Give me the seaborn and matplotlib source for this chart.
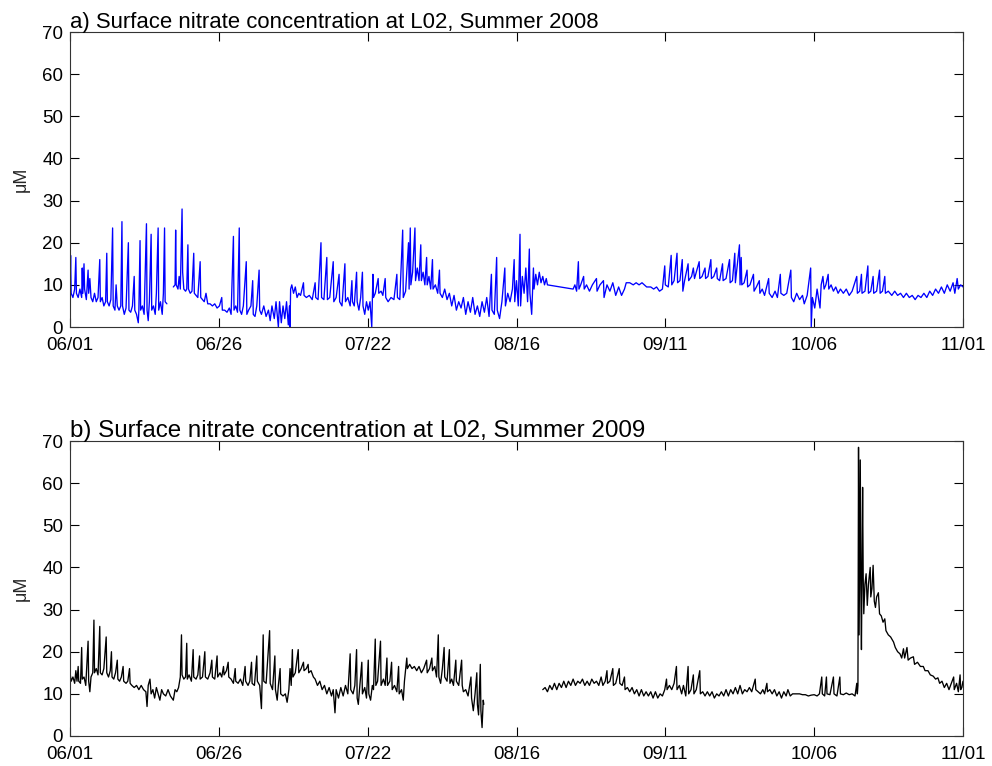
import numpy as np
import pandas as pd
import matplotlib
matplotlib.use("Agg")
import matplotlib.pyplot as plt
import seaborn as sns

# ---------------- data (day since 06/01, uM) ----------------
xtick_days = [0, 25.5, 51, 76.5, 102, 127.5, 153]
xtick_labels = ["06/01", "06/26", "07/22", "08/16", "09/11", "10/06", "11/01"]
ytick_values = [0, 10, 20, 30, 40, 50, 60, 70]

title_2008 = "a) Surface nitrate concentration at L02, Summer 2008"
title_2009 = "b) Surface nitrate concentration at L02, Summer 2009"

nitrate_2008_seg1 = [
    (0.0, 8), (0.1, 17), (0.2, 8), (0.5, 7), (0.8, 9), (1.0, 16.5), (1.1, 8), (1.4, 7), (1.7, 9),
    (2.0, 7), (2.1, 14), (2.2, 8), (2.4, 15), (2.5, 9), (2.8, 6.5), (3.1, 13.5), (3.2, 8), (3.4, 11.5),
    (3.6, 7), (3.9, 6), (4.2, 8), (4.5, 6), (4.8, 7), (5.1, 16), (5.2, 6), (5.5, 7), (5.8, 5), (6.1, 6),
    (6.3, 17.5), (6.4, 6), (6.7, 5), (7.0, 6.5), (7.3, 23.5), (7.4, 5), (7.7, 4), (7.9, 10), (8.1, 5),
    (8.4, 4), (8.7, 5), (8.9, 25), (9.0, 5), (9.3, 3), (9.6, 4.5), (10.0, 20), (10.1, 4), (10.4, 3.5),
    (10.7, 5), (11.0, 12), (11.1, 4), (11.4, 3), (11.7, 1), (11.8, 4), (12.0, 20.5), (12.1, 4),
    (12.4, 5), (12.7, 3), (13.1, 24.5), (13.2, 4), (13.4, 1.5), (13.6, 6), (13.9, 22), (14.0, 4),
    (14.3, 5), (14.6, 3), (14.8, 8), (15.1, 23.5), (15.2, 4), (15.5, 6), (15.8, 3), (16.0, 8),
    (16.2, 23.5), (16.3, 6), (16.6, 5.5),
]

nitrate_2008_seg2 = [
    (17.7, 9.5), (18.0, 10), (18.1, 23), (18.2, 10), (18.5, 9), (18.7, 12), (18.9, 9), (19.1, 22),
    (19.2, 28), (19.3, 13), (19.5, 9), (19.8, 8.5), (20.0, 9), (20.2, 19.5), (20.3, 9), (20.6, 8),
    (20.9, 8.5), (21.2, 17.5), (21.3, 8), (21.6, 7.5), (21.9, 7), (22.3, 15.5), (22.4, 7), (22.7, 6.5),
    (23.0, 6), (23.3, 8), (23.6, 5.5), (24.0, 5.5), (24.4, 5), (24.8, 5.5), (25.2, 4.5), (25.6, 5),
    (26.0, 7), (26.1, 4), (26.5, 4), (26.9, 3.5), (27.3, 4.5), (27.6, 3), (28.0, 21.5), (28.1, 4),
    (28.4, 5), (28.7, 3.5), (29.0, 23.5), (29.1, 4), (29.4, 3), (29.7, 5), (30.2, 15.5), (30.3, 3),
    (30.6, 4), (31.0, 5), (31.3, 11), (31.4, 3), (31.7, 2.5), (32.0, 5), (32.4, 13.5), (32.5, 4),
    (32.8, 3), (33.2, 5), (33.6, 2.5), (34.0, 4), (34.3, 1.5), (34.6, 5), (35.0, 2), (35.3, 6),
    (35.7, 0), (35.9, 6), (36.2, 1), (36.5, 5), (36.8, 2), (37.1, 6), (37.4, 0.5), (37.6, 5), (37.7, 0),
    (37.8, 9), (38.0, 10), (38.3, 8), (38.6, 9.5), (38.9, 7), (39.2, 8), (39.5, 7.5), (40.0, 10.5),
    (40.1, 7.5), (40.5, 7), (41.0, 7.5), (41.5, 6.5), (42.0, 10.5), (42.1, 7), (42.5, 6.5), (43.0, 20),
    (43.1, 7), (43.5, 6.5), (44.0, 16.5), (44.1, 6.5), (44.5, 7), (45.1, 15.5), (45.2, 6), (45.6, 7),
    (46.1, 12.5), (46.2, 6), (46.6, 5), (47.1, 15), (47.2, 6), (47.6, 7), (48.0, 5), (48.3, 11),
    (48.4, 6), (48.7, 5), (49.1, 13), (49.2, 6), (49.5, 4), (49.8, 7), (50.1, 13), (50.2, 5), (50.5, 3),
    (50.8, 6), (51.1, 4), (51.4, 6), (51.7, 0), (51.9, 12.5), (52.0, 7), (52.3, 8), (52.8, 11.5),
    (52.9, 8), (53.3, 8.5), (53.6, 7.5), (54.0, 11.5), (54.1, 7), (54.5, 6), (55.0, 7), (55.5, 6.5),
    (56.0, 12.5), (56.1, 7), (56.5, 6.5), (57.0, 23), (57.1, 7), (57.5, 8.5), (58.0, 20), (58.1, 9),
    (58.3, 23.5), (58.4, 10), (58.7, 13), (59.1, 23.5), (59.2, 11), (59.5, 14), (59.8, 11),
    (60.1, 19.5), (60.2, 11), (60.5, 13), (60.8, 10), (61.1, 16.5), (61.2, 10), (61.5, 12), (61.8, 9),
    (62.1, 16), (62.2, 9), (62.6, 10), (63.0, 8), (63.3, 13.5), (63.4, 8), (63.8, 7), (64.2, 9),
    (64.6, 6.5), (65.0, 8), (65.4, 5), (65.8, 7.5), (66.2, 4), (66.6, 6), (67.0, 4.5), (67.4, 7),
    (67.8, 3), (68.2, 6), (68.6, 3.5), (69.0, 7), (69.4, 3), (69.8, 5), (70.2, 2.5), (70.6, 6),
    (71.0, 3.5), (71.4, 7), (71.8, 2.5), (72.2, 12.5), (72.3, 4), (72.7, 3), (73.1, 16.5), (73.2, 4),
    (73.6, 2), (74.0, 6), (74.5, 14), (74.6, 5), (75.0, 8), (75.4, 6), (75.8, 9), (76.1, 16), (76.2, 6),
    (76.5, 11), (76.8, 5), (77.1, 22), (77.2, 5), (77.5, 12), (77.8, 8), (78.1, 14), (78.4, 6),
    (78.7, 18.5), (78.8, 8), (79.1, 3), (79.4, 14), (79.5, 9), (79.8, 12.5), (80.1, 10), (80.4, 13),
    (80.7, 10.5), (81.0, 12), (81.3, 10), (81.6, 11.5), (81.8, 10), (86.2, 9), (86.5, 10), (86.8, 8.5),
    (87.1, 15.5), (87.2, 9), (87.5, 10), (88.0, 12), (88.1, 9), (88.5, 10), (89.0, 8.5), (89.5, 10),
    (90.2, 11.5), (90.3, 8.5), (90.8, 10), (91.4, 11), (91.5, 7), (92.0, 10), (92.5, 8.5), (93.0, 10.5),
    (93.5, 7.5), (94.0, 9.5), (94.5, 7.5), (95.0, 9), (95.3, 10.5), (95.9, 10.5), (96.5, 10),
    (97.0, 10.5), (97.5, 10), (98.0, 10.5), (98.8, 9.5), (99.5, 9.5), (100.0, 9), (100.5, 9.5),
    (101.0, 8.5), (101.5, 9), (101.9, 14.5), (102.0, 10), (102.5, 9.5), (103.0, 17), (103.1, 10),
    (103.5, 11), (104.0, 17.5), (104.1, 10.5), (104.5, 11), (104.9, 16), (105.0, 8.5), (105.3, 11),
    (105.9, 15), (106.0, 11), (106.5, 12), (106.8, 14), (107.0, 11.5), (107.8, 15.5), (107.9, 11.5),
    (108.3, 12), (108.8, 14), (108.9, 11.5), (109.3, 12), (109.8, 16), (109.9, 11.5), (110.3, 12),
    (110.8, 14), (110.9, 11.5), (111.3, 11), (111.8, 15), (111.9, 11), (112.4, 11.5), (113.0, 16),
    (113.1, 10.5), (113.5, 11), (113.9, 17.5), (114.0, 10.5), (114.7, 19.5), (114.8, 10), (115.0, 16.5),
    (115.1, 10), (115.5, 10.5), (116.0, 13.5), (116.1, 9.5), (116.5, 10), (117.1, 12.5), (117.2, 8.5),
    (117.6, 9.5), (118.1, 11), (118.2, 8), (118.6, 9), (119.0, 7.5), (119.7, 11.5), (119.8, 8),
    (120.3, 7), (120.8, 8.5), (121.2, 7), (121.7, 12.5), (121.8, 8), (122.3, 7.5), (122.8, 8),
    (123.5, 13.5), (123.6, 7), (124.0, 6), (124.5, 8), (125.0, 6.5), (125.5, 7.5), (125.8, 5.5),
    (126.3, 7.5), (126.9, 14), (127.0, 0), (127.2, 7), (127.6, 4.5), (128.0, 9), (128.5, 4.5),
    (128.7, 10), (129.0, 12), (129.2, 9), (129.5, 10), (129.9, 12.5), (130.0, 9), (130.4, 10),
    (130.8, 8.5), (131.2, 9.5), (131.6, 8), (132.0, 9), (132.5, 8), (133.0, 9), (133.5, 7.5), (134.0, 8.5),
    (134.8, 12), (134.9, 8), (135.3, 8.5), (135.6, 12.5), (135.7, 8), (136.2, 8.5), (136.7, 14.5),
    (136.8, 8), (137.2, 8.5), (137.6, 12), (137.7, 8), (138.2, 8.5), (138.7, 13.5), (138.8, 8),
    (139.2, 8.5), (139.6, 12), (139.7, 8), (140.2, 8.5), (140.8, 7.5), (141.3, 8.5), (141.8, 7.5),
    (142.3, 8), (142.8, 7), (143.3, 8), (143.8, 7), (144.3, 7.5), (144.8, 6.5), (145.3, 7.5), (145.8, 7),
    (146.3, 8), (146.8, 7), (147.3, 8.5), (147.8, 7.5), (148.3, 9), (148.8, 8), (149.3, 9.5), (149.8, 8),
    (150.3, 10), (150.8, 8.5), (151.3, 10.5), (151.6, 8), (152.0, 11.5), (152.2, 9), (152.6, 10),
    (153.0, 9.5),
]

nitrate_2009_seg1 = [
    (0.0, 15), (0.2, 13), (0.5, 14), (0.8, 12.5), (1.0, 15.5), (1.2, 13), (1.4, 16.5), (1.5, 13),
    (1.8, 12.5), (2.0, 21), (2.1, 13.5), (2.4, 14), (2.7, 12), (3.1, 22.5), (3.2, 13), (3.4, 10.5),
    (3.6, 14), (3.9, 15), (4.1, 27.5), (4.2, 15), (4.5, 16), (4.8, 14.5), (5.1, 26), (5.2, 15),
    (5.5, 14.5), (5.8, 16), (6.2, 23.5), (6.3, 15), (6.6, 14), (6.9, 15.5), (7.1, 20), (7.2, 14),
    (7.5, 13.5), (7.8, 15), (8.1, 18), (8.2, 13.5), (8.5, 13), (8.8, 14), (9.1, 16.5), (9.2, 13),
    (9.6, 12.5), (9.9, 13), (10.2, 16), (10.3, 12.5), (10.6, 12), (11.0, 11.5), (11.4, 12), (11.8, 11),
    (12.2, 12), (12.6, 11), (13.0, 10.5), (13.2, 7), (13.4, 12), (13.7, 13.5), (13.9, 10), (14.2, 11),
    (14.5, 9), (14.8, 11.5), (15.1, 10), (15.4, 8.5), (15.7, 11), (16.0, 10), (16.4, 9.5), (16.8, 11),
    (17.2, 9.5), (17.7, 8.5), (18.0, 11), (18.3, 10.5), (18.6, 11.5), (18.9, 14), (19.1, 24),
    (19.2, 14.5), (19.5, 13.5), (19.8, 14), (20.0, 22), (20.1, 13.5), (20.4, 14.5), (20.8, 13),
    (21.1, 20.5), (21.2, 14), (21.6, 13.5), (21.9, 14.5), (22.2, 19), (22.3, 13.5), (22.7, 14),
    (23.1, 20), (23.2, 14), (23.6, 13.5), (24.0, 15), (24.3, 18), (24.4, 14), (24.8, 13.5), (25.2, 19),
    (25.3, 14), (25.7, 15), (26.0, 14), (26.3, 16.5), (26.4, 14.5), (26.8, 15.5), (27.1, 17.5),
    (27.2, 14), (27.6, 13.5), (28.0, 12.5), (28.3, 16), (28.4, 13), (28.8, 12.5), (29.2, 13.5),
    (29.6, 12), (30.0, 16.5), (30.1, 13), (30.5, 12), (30.8, 13), (31.1, 17.5), (31.2, 12.5), (31.6, 12),
    (32.0, 19), (32.1, 13), (32.5, 12), (32.8, 6.5), (32.9, 12), (33.1, 24), (33.2, 13), (33.6, 12.5),
    (34.2, 25), (34.3, 12.5), (34.7, 11), (35.1, 19), (35.2, 11), (35.5, 8.5), (35.7, 12), (36.0, 16),
    (36.1, 10), (36.5, 9.5), (36.9, 10), (37.2, 8), (37.5, 11), (37.7, 16), (37.9, 12), (38.1, 20.5),
    (38.2, 14), (38.6, 15), (39.1, 20.5), (39.2, 15), (39.6, 16), (40.0, 17.5), (40.1, 15.5), (40.5, 16),
    (40.8, 17), (40.9, 15), (41.3, 15.5), (41.7, 14), (42.0, 13.5), (42.4, 12), (42.8, 13), (43.2, 11),
    (43.6, 12), (44.0, 10), (44.4, 11.5), (44.8, 9.5), (45.1, 11), (45.4, 5.5), (45.6, 11), (46.0, 9),
    (46.4, 11.5), (46.8, 9.5), (47.2, 12), (47.6, 10), (48.0, 19.5), (48.1, 11), (48.5, 10), (48.8, 12),
    (49.1, 20.5), (49.2, 9), (49.4, 7.5), (49.6, 11), (50.0, 17.5), (50.1, 10), (50.5, 11.5), (50.8, 9),
    (51.1, 18), (51.2, 10), (51.5, 8.5), (51.8, 12), (52.0, 11), (52.3, 23), (52.4, 12), (52.7, 13),
    (53.2, 22.5), (53.3, 12), (53.7, 13.5), (54.0, 12), (54.3, 18.5), (54.4, 12), (54.8, 13),
    (55.1, 17.5), (55.2, 11), (55.6, 12), (56.0, 10.5), (56.3, 16.5), (56.4, 10), (56.8, 11), (57.1, 8.5),
    (57.3, 13), (57.7, 18.5), (57.8, 16), (58.2, 17), (58.6, 16), (59.0, 16.5), (59.4, 15.5),
    (59.8, 16.5), (60.2, 15), (60.6, 16), (61.1, 18), (61.2, 15), (61.6, 16), (62.0, 18.5), (62.1, 15.5),
    (62.5, 16.5), (62.8, 14), (63.1, 24), (63.2, 14), (63.5, 12.5), (63.8, 16), (64.1, 21), (64.2, 14),
    (64.6, 13), (65.0, 20.5), (65.1, 12.5), (65.4, 13.5), (65.7, 12), (66.1, 18), (66.2, 13), (66.6, 12),
    (67.1, 18), (67.2, 12), (67.4, 10.5), (67.8, 11), (68.2, 9.5), (68.7, 14), (68.8, 9), (69.1, 6),
    (69.4, 10), (69.7, 15), (69.8, 7.5), (70.0, 5), (70.3, 17), (70.4, 6), (70.6, 2), (70.8, 8.5),
    (70.9, 7.5),
]

nitrate_2009_seg2 = [
    (81.0, 11), (81.4, 11.5), (81.8, 10.5), (82.2, 12), (82.6, 11), (83.0, 12.5), (83.4, 11),
    (83.8, 12.5), (84.2, 11.5), (84.6, 13), (85.0, 11.5), (85.4, 13), (85.8, 12), (86.2, 13.5), (86.6, 12),
    (87.0, 13), (87.4, 12.5), (87.8, 13.5), (88.2, 12), (88.6, 13), (89.0, 12), (89.4, 13.5), (89.8, 12.5),
    (90.2, 13), (90.6, 12), (91.0, 14), (91.3, 12), (91.7, 13), (92.0, 15.5), (92.1, 12.5), (92.5, 13),
    (93.0, 16), (93.1, 12), (93.5, 12.5), (94.1, 16), (94.2, 12.5), (94.6, 12), (95.0, 14), (95.1, 11),
    (95.5, 11.5), (95.9, 10.5), (96.3, 11.5), (96.7, 10), (97.1, 11), (97.5, 9.5), (97.9, 11), (98.3, 9.5),
    (98.7, 10.5), (99.1, 9.5), (99.5, 10.5), (99.9, 9), (100.3, 10.5), (100.7, 9), (101.1, 10),
    (101.5, 9.5), (101.9, 11), (102.2, 13.5), (102.3, 11), (102.7, 12), (103.1, 11), (103.5, 12.5),
    (103.9, 16.5), (104.0, 11), (104.4, 12), (104.8, 10), (105.1, 12), (105.5, 9.5), (105.9, 16.5),
    (106.0, 10), (106.4, 11), (106.8, 14.5), (106.9, 10), (107.3, 11), (107.9, 15.5), (108.0, 10),
    (108.4, 10.5), (108.8, 9.5), (109.2, 10.5), (109.6, 9.5), (110.0, 10.5), (110.4, 9), (110.8, 10),
    (111.2, 9.5), (111.6, 10.5), (112.0, 9.5), (112.4, 11), (112.8, 9.5), (113.2, 11), (113.6, 10),
    (114.0, 11.5), (114.4, 10), (114.8, 12), (115.2, 10), (115.6, 11), (116.0, 10.5), (116.4, 11.5),
    (116.8, 10.5), (117.4, 13.5), (117.5, 11), (117.9, 10.5), (118.3, 10), (118.7, 11), (119.0, 10),
    (119.4, 12.5), (119.5, 10.5), (119.9, 11), (120.3, 10), (120.7, 11), (121.1, 9.5), (121.5, 10.5),
    (121.9, 9), (122.3, 10.5), (122.7, 9.5), (123.0, 11), (123.4, 9.5), (123.8, 10), (124.5, 10),
    (125.0, 10), (125.5, 9.8), (126.0, 9.8), (126.5, 9.5), (127.0, 9.7), (127.5, 9.8), (128.0, 9.5),
    (128.4, 10), (128.8, 14), (128.9, 10), (129.3, 9.5), (129.6, 14), (129.7, 10), (130.2, 9.8),
    (130.8, 14), (130.9, 10), (131.4, 9.5), (131.9, 14), (132.0, 10), (132.5, 9.8), (133.0, 10.2),
    (133.5, 9.8), (134.0, 10), (134.5, 9.5), (134.8, 12.5), (134.9, 10), (135.0, 12), (135.1, 68.5),
    (135.2, 24), (135.4, 65.5), (135.5, 35), (135.6, 20.5), (135.8, 59), (135.9, 38), (136.0, 29),
    (136.2, 36), (136.4, 38.5), (136.6, 31), (136.8, 36), (137.1, 40), (137.2, 33), (137.4, 35),
    (137.6, 40.5), (137.8, 32), (138.0, 30.5), (138.2, 33), (138.5, 34), (138.7, 29), (139.0, 28.5),
    (139.3, 27), (139.6, 27.8), (139.8, 25), (140.2, 24), (140.6, 23.5), (141.1, 22.3), (141.4, 21),
    (141.8, 20), (142.2, 19.5), (142.5, 18.5), (142.8, 20.7), (143.0, 18.5), (143.4, 21), (143.6, 18),
    (144.0, 18.5), (144.5, 18.8), (144.7, 17), (145.2, 17.5), (145.7, 16.5), (146.2, 16.5), (146.5, 15.5),
    (147.0, 15.5), (147.4, 14.5), (147.9, 14.2), (148.3, 13.5), (148.7, 13.8), (149.0, 12.5), (149.4, 13),
    (149.8, 11.5), (150.2, 12.5), (150.6, 11), (151.0, 12.5), (151.4, 14), (151.5, 11), (151.9, 12.5),
    (152.2, 10.5), (152.5, 14.5), (152.6, 11), (152.8, 11.5), (153.0, 13),
]


def to_frame(segments):
    rows = []
    for k, seg in enumerate(segments):
        for d, v in seg:
            rows.append({"day": d, "nitrate": v, "seg": k})
    return pd.DataFrame(rows)


df08 = to_frame([nitrate_2008_seg1, nitrate_2008_seg2])
df09 = to_frame([nitrate_2009_seg1, nitrate_2009_seg2])

# ---------------- figure ----------------
sns.set_theme(style="white")
plt.rcParams["font.family"] = ["Liberation Sans", "DejaVu Sans"]

fig = plt.figure(figsize=(9.92, 7.66), dpi=100)
ax1 = fig.add_axes([70 / 992, 1 - 327 / 766, 893 / 992, 295 / 766])
ax2 = fig.add_axes([70 / 992, 1 - 736 / 766, 893 / 992, 295 / 766])

panels = [(ax1, df08, "#0000ff", title_2008, 15.9), (ax2, df09, "black", title_2009, 17.4)]
for ax, df, col, title, tsize in panels:
    sns.lineplot(data=df, x="day", y="nitrate", units="seg", estimator=None,
                 color=col, lw=0.95, ax=ax, legend=False)
    ax.set_xlim(0, 153)
    ax.set_ylim(0, 70)
    ax.set_xticks(xtick_days)
    ax.set_xticklabels(xtick_labels)
    ax.set_yticks(ytick_values)
    ax.set_xlabel("")
    ax.set_ylabel("μM", fontsize=13)
    ax.yaxis.set_label_coords(-0.045, 0.5)
    ax.tick_params(axis="both", direction="in", length=6.5, width=0.8, colors="black",
                   labelsize=13.5, top=True, right=True, bottom=True, left=True)
    ax.tick_params(axis="y", pad=5)
    ax.tick_params(axis="x", pad=7)
    for sp in ax.spines.values():
        sp.set_visible(True)
        sp.set_color("#333333")
        sp.set_linewidth(0.8)
    ax.set_title(title, loc="left", fontsize=tsize, pad=3, color="black")
    ax.grid(False)
    ax.set_facecolor("white")

fig.savefig("out.png", dpi=100, facecolor="white")
